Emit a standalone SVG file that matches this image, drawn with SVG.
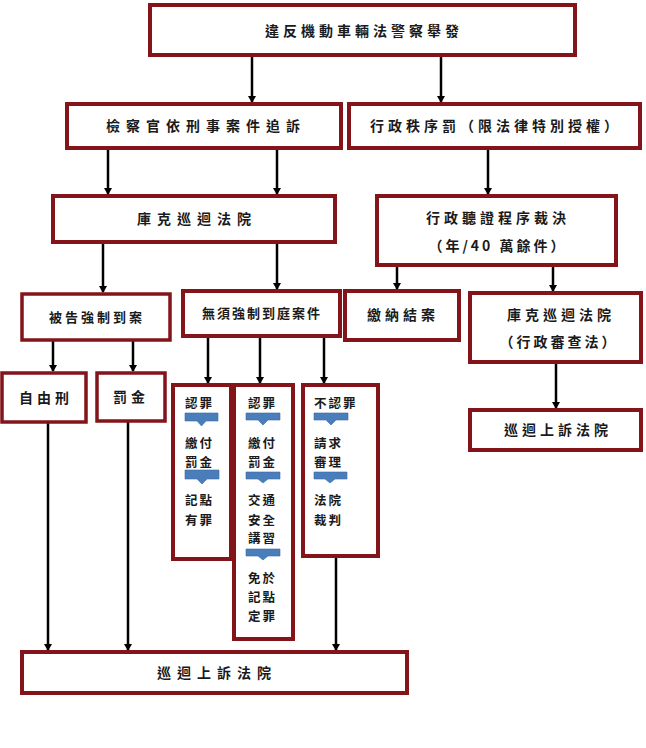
<svg xmlns="http://www.w3.org/2000/svg" width="646" height="748" viewBox="0 0 646 748">
<style>
.b{fill:#fff;stroke:#82141a;stroke-width:4}
.s{fill:#fff;stroke:#82141a;stroke-width:3.5}
.t{font-family:"Noto Sans CJK TC","Noto Sans CJK SC",sans-serif;font-weight:700;fill:#1a1a1a;text-anchor:middle}
.m{font-size:14px;letter-spacing:4px}
.n{font-size:13px;letter-spacing:3px}
.k{font-family:"Noto Sans CJK TC","Noto Sans CJK SC",sans-serif;font-weight:700;fill:#1a1a1a;font-size:12.5px;letter-spacing:2px}
.c line{stroke:#000;stroke-width:2.5;marker-end:url(#ah)}
.v{fill:#4a7ebb;stroke:#3a6aa5;stroke-width:0.6}
</style>
<defs>
<marker id="ah" markerWidth="8" markerHeight="8" refX="6" refY="4" orient="auto" markerUnits="userSpaceOnUse">
<path d="M0,0 L7,4 L0,8 Z" fill="#000"/>
</marker>
</defs>
<rect width="646" height="748" fill="#fff"/>
<g id="connectors" class="c">
<line x1="252" y1="55" x2="252" y2="102"/>
<line x1="441" y1="55" x2="441" y2="102"/>
<line x1="108" y1="148" x2="108" y2="194"/>
<line x1="277" y1="148" x2="277" y2="194"/>
<line x1="488" y1="148" x2="488" y2="194"/>
<line x1="103" y1="242" x2="103" y2="292"/>
<line x1="277" y1="242" x2="277" y2="289"/>
<line x1="397" y1="265" x2="397" y2="289"/>
<line x1="553" y1="265" x2="553" y2="291"/>
<line x1="53" y1="340" x2="53" y2="371"/>
<line x1="133" y1="340" x2="133" y2="371"/>
<line x1="208" y1="336" x2="208" y2="383"/>
<line x1="260" y1="336" x2="260" y2="383"/>
<line x1="324" y1="336" x2="324" y2="383"/>
<line x1="556" y1="362" x2="556" y2="408"/>
<line x1="48" y1="422" x2="48" y2="650"/>
<line x1="128" y1="421" x2="128" y2="650"/>
<line x1="336" y1="556" x2="336" y2="650"/>
</g>
<g id="n1"><rect class="b" x="150" y="5" width="425" height="50"/><text class="t m" x="364" y="36">違反機動車輛法警察舉發</text></g>
<g id="n2"><rect class="b" x="67" y="104" width="274" height="44"/><text class="t m" x="206" y="131" style="letter-spacing:6px">檢察官依刑事案件追訴</text></g>
<g id="n3"><rect class="b" x="349" y="104" width="291" height="44"/><text class="t m" x="496" y="131">行政秩序罰（限法律特別授權）</text></g>
<g id="n4"><rect class="b" x="53" y="196" width="282" height="46"/><text class="t m" x="197" y="224" style="letter-spacing:6px">庫克巡迴法院</text></g>
<g id="n5"><rect class="b" x="377" y="196" width="239" height="69"/><text class="t m" x="498" y="223">行政聽證程序裁決</text><text class="t m" x="498" y="251" style="letter-spacing:3px">（年/40 萬餘件）</text></g>
<g id="n6"><rect class="s" x="22" y="294" width="148" height="46"/><text class="t n" x="97" y="322">被告強制到案</text></g>
<g id="n7"><rect class="b" x="183" y="291" width="157" height="45"/><text class="t n" x="262" y="318" style="letter-spacing:2px">無須強制到庭案件</text></g>
<g id="n8"><rect class="b" x="345" y="291" width="114" height="49"/><text class="t m" x="403" y="320">繳納結案</text></g>
<g id="n9"><rect class="b" x="470" y="293" width="171" height="69"/><text class="t m" x="561" y="320">庫克巡迴法院</text><text class="t m" x="559" y="347" style="letter-spacing:3px">（行政審查法）</text></g>
<g id="n10"><rect class="s" x="2" y="373" width="84" height="49"/><text class="t m" x="46" y="403">自由刑</text></g>
<g id="n11"><rect class="s" x="97" y="373" width="68" height="48"/><text class="t m" x="131" y="402">罰金</text></g>
<g id="n12"><rect class="b" x="173" y="385" width="58" height="174"/>
<text class="k" x="185" y="408">認罪</text>
<path class="v" d="M185,413 H218 V421 H206 L201.5,426 L197,421 H185 Z"/>
<text class="k" x="185" y="448">繳付</text>
<text class="k" x="185" y="467">罰金</text>
<path class="v" d="M185,470 H219 V479 H207 L202,484 L197,479 H185 Z"/>
<text class="k" x="185" y="505">記點</text>
<text class="k" x="185" y="525">有罪</text>
</g>
<g id="n13"><rect class="b" x="234" y="385" width="59" height="254"/>
<text class="k" x="248" y="408">認罪</text>
<path class="v" d="M246,413 H280 V420 H268 L263,425 L258,420 H246 Z"/>
<text class="k" x="248" y="448">繳付</text>
<text class="k" x="248" y="467">罰金</text>
<path class="v" d="M246,472 H280 V479 H268 L263,483 L258,479 H246 Z"/>
<text class="k" x="248" y="505">交通</text>
<text class="k" x="248" y="525">安全</text>
<text class="k" x="248" y="543">講習</text>
<path class="v" d="M246,549 H280 V556 H268 L263,560 L258,556 H246 Z"/>
<text class="k" x="248" y="583">免於</text>
<text class="k" x="248" y="602">記點</text>
<text class="k" x="248" y="621">定罪</text>
</g>
<g id="n14"><rect class="b" x="303" y="385" width="75" height="171"/>
<text class="k" x="314" y="408">不認罪</text>
<path class="v" d="M314,413 H348 V420 H336 L331,425 L326,420 H314 Z"/>
<text class="k" x="314" y="448">請求</text>
<text class="k" x="314" y="467">審理</text>
<path class="v" d="M314,472 H347 V479 H335 L330,483 L325,479 H314 Z"/>
<text class="k" x="314" y="505">法院</text>
<text class="k" x="314" y="525">裁判</text>
</g>
<g id="n15"><rect class="b" x="470" y="410" width="171" height="40"/><text class="t m" x="558" y="435">巡迴上訴法院</text></g>
<g id="n16"><rect class="b" x="22" y="652" width="385" height="41"/><text class="t m" x="217" y="678" style="letter-spacing:6px">巡迴上訴法院</text></g>
</svg>
